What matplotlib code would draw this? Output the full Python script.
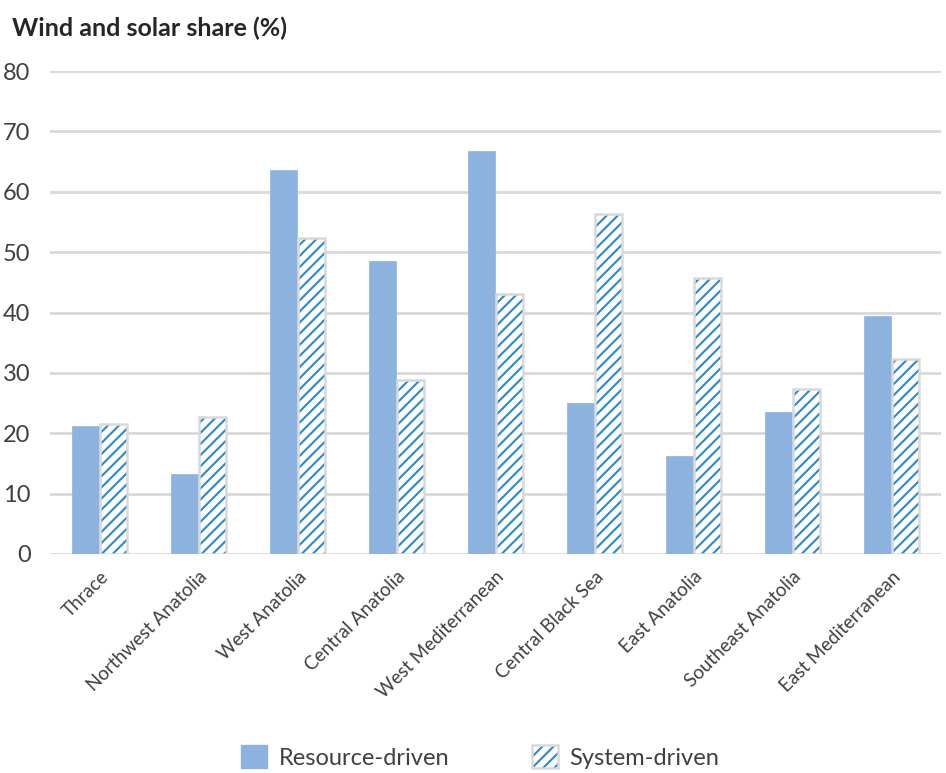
import matplotlib
matplotlib.use("Agg")
import matplotlib.pyplot as plt
import numpy as np
from matplotlib.patches import Patch

regions = ["Thrace", "Northwest Anatolia", "West Anatolia", "Central Anatolia",
           "West Mediterranean", "Central Black Sea", "East Anatolia",
           "Southeast Anatolia", "East Mediterranean"]
resource_driven = [21.2, 13.2, 63.6, 48.5, 66.7, 25.0, 16.2, 23.5, 39.4]
system_driven = [21.5, 22.7, 52.3, 28.8, 43.0, 56.3, 45.7, 27.3, 32.3]
yticks = [0, 10, 20, 30, 40, 50, 60, 70, 80]

plt.rcParams['font.family'] = ['Lato', 'DejaVu Sans']
plt.rcParams['hatch.linewidth'] = 1.5

fig = plt.figure(figsize=(9.46, 7.73), dpi=100)
ax = fig.add_axes([50/946, 1-554/773, 891/946, (554-71)/773])

x = np.arange(len(regions))
w = 0.27
res_color = '#8cb3e0'
hatch_color = '#2a8ac9'
edge_grey = '#d9d9d9'
text_color = '#404040'
ax.bar(x - 0.145, resource_driven, width=w, color=res_color, edgecolor=res_color, linewidth=0.5, zorder=3)
# hatched fill (hatch takes edgecolor), then grey outline on top
ax.bar(x + 0.145, system_driven, width=w, color='white', edgecolor=hatch_color, linewidth=0,
       hatch='///', zorder=3)
ax.bar(x + 0.145, system_driven, width=w, color='none', edgecolor=edge_grey, linewidth=1.8, zorder=4)

ax.set_xlim(-0.5, len(regions) - 0.5)
ax.set_ylim(0, 80)
ax.set_yticks(yticks)
ax.set_yticklabels([str(v) for v in yticks], fontsize=17, color=text_color)
ax.set_xticks(x)
ax.set_xticklabels(regions, rotation=45, ha='right', rotation_mode='anchor',
                   fontsize=13.5, color=text_color)
ax.tick_params(axis='both', length=0)
ax.tick_params(axis='y', pad=14)
ax.tick_params(axis='x', pad=10)
for s in ax.spines.values():
    s.set_visible(False)
ax.yaxis.grid(True, color=edge_grey, linewidth=2, zorder=0)
ax.set_axisbelow(True)

fig.text(12/946, 1-28/773, "Wind and solar share (%)", fontsize=18, fontweight='bold',
         color='#262626', va='center', ha='left')

h1 = Patch(facecolor=res_color, edgecolor=res_color, label='Resource-driven')
h2 = Patch(facecolor='white', edgecolor=hatch_color, hatch='///', linewidth=0, label='System-driven')
h2b = Patch(facecolor='none', edgecolor=edge_grey, linewidth=1.8)
fig.legend(handles=[h1, (h2, h2b)], labels=['Resource-driven', 'System-driven'],
           loc='center', bbox_to_anchor=(480/946, 1-757/773), ncol=2,
           frameon=False, handlelength=1.1, handleheight=1.1, columnspacing=3.5,
           handletextpad=0.5, labelcolor=text_color, prop={'size': 17})

fig.savefig("out.png", dpi=100)
